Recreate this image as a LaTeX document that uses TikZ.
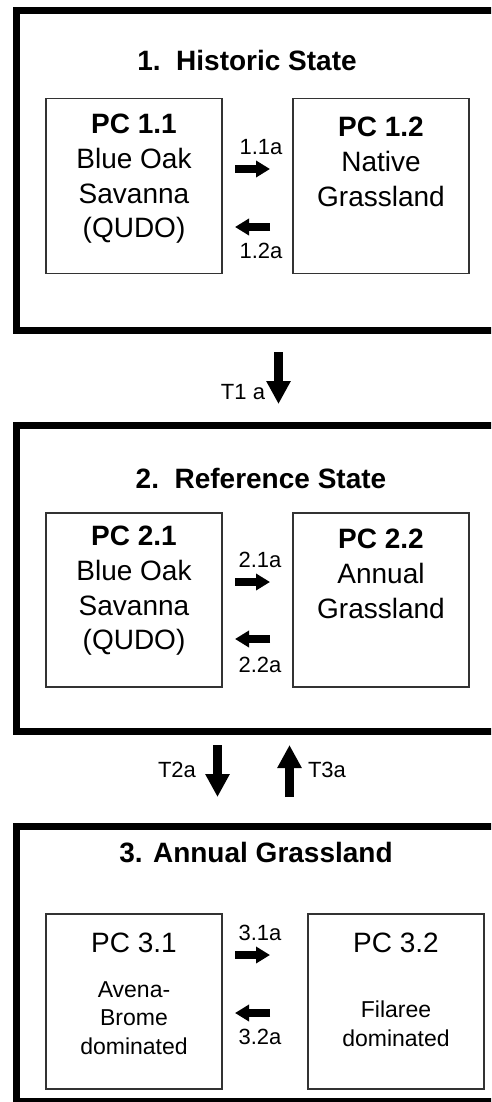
\documentclass[tikz,border=0pt]{standalone}
\usepackage{fontspec}
\setmainfont{Liberation Sans}
\usetikzlibrary{arrows.meta}
\begin{document}
\begin{tikzpicture}[x=1pt,y=-1pt,
  statebox/.style={draw=black,line width=7pt},
  pcbox/.style={draw=black!80,line width=1.3pt,minimum width=176pt,minimum height=175pt,inner sep=0pt},
  titletext/.style={font=\fontsize{28}{34}\bfseries\selectfont,inner sep=0pt},
  pctext/.style={font=\fontsize{28}{34.7}\selectfont,align=center,inner sep=0pt},
  smalltext/.style={font=\fontsize{23}{28.5}\selectfont,align=center,inner sep=0pt},
  lbl/.style={font=\fontsize{22}{24}\selectfont,inner sep=0pt},
  harrow/.style={line width=7.5pt,-{Triangle[length=14pt,width=16pt]}},
  varrow/.style={line width=9pt,-{Triangle[length=23pt,width=23pt]}}
]
\useasboundingbox (0,0) rectangle (491,1102);
\clip (0,0) rectangle (491,1102);
\fill[white] (0,0) rectangle (491,1102);

% state boxes
\draw[statebox] (16.5,10.5) rectangle (560,330.5);
\draw[statebox] (16.5,425) rectangle (560,731.5);
\draw[statebox] (16.5,826.5) rectangle (560,1101);

% titles
\node[titletext] (t1) at (247,60) {1.\ \ Historic State};
\node[titletext] (t2) at (261,478) {2.\ \ Reference State};
\node[titletext] (t3) at (256,853) {3. Annual Grassland};

% state 1
\node[pcbox] (pc11) at (134,186) {};
\node[pcbox] (pc12) at (381,186) {};
\node[pctext] (pc11t) at (134,179) {\textbf{PC 1.1}\\Blue Oak\\Savanna\\(QUDO)};
\node[pctext] (pc12t) at (381,162) {\textbf{PC 1.2}\\Native\\Grassland};
\coordinate (r1s) at (235,169); \coordinate (r1e) at (270,169);
\coordinate (l1s) at (270,227); \coordinate (l1e) at (235,227);
\draw[harrow] (r1s) -- (r1e);
\draw[harrow] (l1s) -- (l1e);
\node[lbl] (a11) at (261,147) {1.1a};
\node[lbl] (a12) at (261,251) {1.2a};

% T1a
\coordinate (t1s) at (278.5,352); \coordinate (t1e) at (278.5,404);
\draw[varrow] (t1s) -- (t1e);
\node[lbl] (T1) at (243,392) {T1 a};

% state 2
\node[pcbox,minimum height=174pt] (pc21) at (134,600) {};
\node[pcbox,minimum height=174pt] (pc22) at (381,600) {};
\node[pctext] (pc21t) at (134,591) {\textbf{PC 2.1}\\Blue Oak\\Savanna\\(QUDO)};
\node[pctext] (pc22t) at (381,574) {\textbf{PC 2.2}\\Annual\\Grassland};
\coordinate (r2s) at (235,582); \coordinate (r2e) at (270,582);
\coordinate (l2s) at (270,639); \coordinate (l2e) at (235,639);
\draw[harrow] (r2s) -- (r2e);
\draw[harrow] (l2s) -- (l2e);
\node[lbl] (a21) at (260,560) {2.1a};
\node[lbl] (a22) at (260,665) {2.2a};

% T2a, T3a
\coordinate (t2s) at (217.5,745); \coordinate (t2e) at (217.5,797);
\coordinate (t3s) at (289.5,797); \coordinate (t3e) at (289.5,745);
\draw[varrow] (t2s) -- (t2e);
\draw[varrow] (t3s) -- (t3e);
\node[lbl] (T2) at (177,770) {T2a};
\node[lbl] (T3) at (327,770) {T3a};

% state 3
\node[pcbox] (pc31) at (134,1001.5) {};
\node[pcbox] (pc32) at (396,1001.5) {};
\node[pctext] (pc31h) at (134,943) {PC 3.1};
\node[pctext] (pc32h) at (396,943) {PC 3.2};
\node[smalltext] (pc31t) at (134,1018) {Avena-\\Brome\\dominated};
\node[smalltext] (pc32t) at (396,1024) {Filaree\\dominated};
\coordinate (r3s) at (235,955); \coordinate (r3e) at (270,955);
\coordinate (l3s) at (270,1013); \coordinate (l3e) at (235,1013);
\draw[harrow] (r3s) -- (r3e);
\draw[harrow] (l3s) -- (l3e);
\node[lbl] (a31) at (260,933) {3.1a};
\node[lbl] (a32) at (260,1037) {3.2a};
\end{tikzpicture}
\end{document}
